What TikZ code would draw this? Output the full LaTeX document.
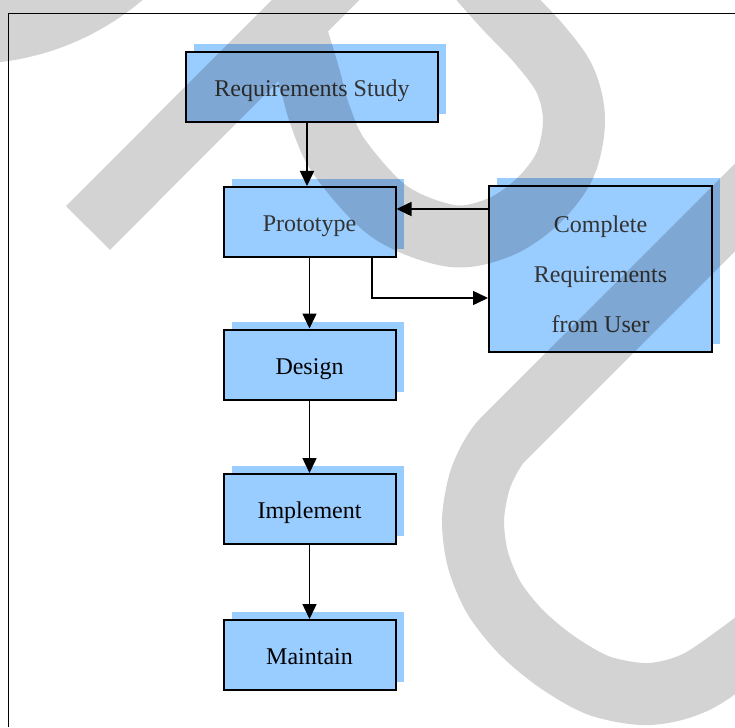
\documentclass[tikz,border=0pt]{standalone}
\usepackage{fontspec}
\setmainfont{Liberation Serif}
\usetikzlibrary{arrows.meta,shadows}
\definecolor{boxblue}{HTML}{99CCFF}
\definecolor{softtext}{HTML}{333333}

\begin{document}
\begin{tikzpicture}[x=1pt,y=-1pt,
  stage/.style={draw=black, line width=2pt, fill=boxblue, inner sep=0pt,
    minimum width=172pt, minimum height=70pt,
    text height=19pt, text depth=0pt,
    font=\fontsize{24}{28}\selectfont,
    general shadow={fill=boxblue, shadow xshift=8pt, shadow yshift=8pt}},
  flow/.style={draw=black, line width=1.5pt, -{Triangle[length=15pt,width=14pt]}},
  frameline/.style={draw=black, line width=1.4pt},
  wmband/.style={draw=black, draw opacity=0.172, line width=62pt,
    line cap=butt, line join=round},
  wmfill/.style={fill=black, fill opacity=0.172},
]
\useasboundingbox (0,0) rectangle (735,727);
\clip (0,0) rectangle (735,727);
\fill[white] (0,0) rectangle (735,727);

% page frame
\draw[frameline] (8.5,727) -- (8.5,13.5) -- (735,13.5);

% process stages
\node[stage, text=softtext, minimum width=252pt] (req) at (312,87) {Requirements Study};
\node[stage, text=softtext] (proto) at (309.5,222) {Prototype};
\node[stage, text=softtext, minimum width=223pt, minimum height=166pt,
      text height=19pt, text depth=93pt,
      font=\fontsize{24}{50}\selectfont] (user) at (600.5,269)
      {\parbox[t]{200pt}{\centering Complete\\Requirements\\from User}};
\node[stage] (design) at (309.5,364.5) {Design};
\node[stage] (impl) at (309.5,509) {Implement};
\node[stage] (maint) at (309.5,655) {Maintain};

% flow between stages
\draw[flow] ([xshift=-5pt]req.south) -- ([xshift=-5pt]req.south |- proto.north);
\draw[flow] (proto) -- (design);
\draw[flow] (design) -- (impl);
\draw[flow] (impl) -- (maint);
\draw[flow] ([yshift=13pt]proto.east -| user.west) -- ([yshift=13pt]proto.east);
\draw[flow] ([xshift=62.5pt]proto.south) |- ([yshift=-29pt]user.west);

% watermark
\fill[wmfill] (-32,-206) circle[radius=270pt];
\draw[wmband] (88,228) -- (345,-29.5)
  plot[smooth, tension=0.55] coordinates {(292,20) (308,72) (320,115) (340,158)
     (390,212) (452,236) (500,227) (538,201) (565,165) (574,120) (565,80)
     (540,45) (505,8) (480,-20)}
  plot[smooth, tension=0.5] coordinates {(790,152.5) (640,302.5) (520,422.5)
     (496,448) (480,480) (473,520) (478,560) (494,598) (521,632) (557,662)
     (600,686) (650,694) (700,680) (770,630)};
\end{tikzpicture}
\end{document}
